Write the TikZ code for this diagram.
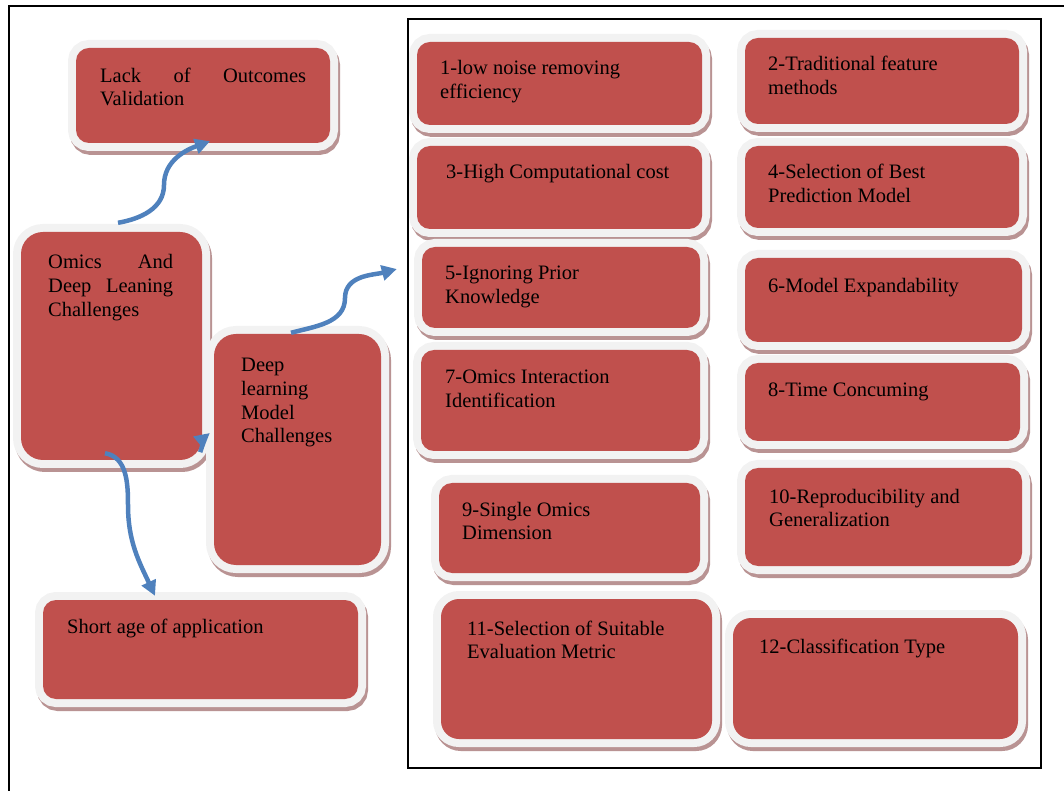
\documentclass[tikz,border=0pt]{standalone}
\usepackage{fontspec}
\setmainfont{Liberation Serif}
\usetikzlibrary{arrows.meta}
\definecolor{cardRed}{HTML}{C0504D}
\definecolor{cardRim}{HTML}{F2F2F2}
\definecolor{cardShade}{HTML}{B99393}
\definecolor{linkBlue}{HTML}{4F81BD}

\begin{document}
\begin{tikzpicture}[x=1pt, y=1pt, font=\fontsize{20.5}{23.6}\selectfont,
    card/.style={rectangle, rounded corners=13pt, fill=cardRed, inner sep=0pt,
      preaction={draw=cardShade, line width=16pt, transform canvas={shift={(2pt,-4pt)}}},
      preaction={draw=cardRim, line width=16pt}},
    note/.style={anchor=base west, inner sep=0pt, align=left},
    link/.style={draw=linkBlue, line width=4.5pt, -{Triangle[length=15pt, width=15pt]}}]
    \useasboundingbox (0,0) rectangle (1064,790);
    % frames
    \draw[line width=2pt] (9,-10) rectangle (1080,784);
    \draw[line width=2pt] (408,22) rectangle (1041,771);

    % left column
    \node[card, minimum width=254pt, minimum height=95pt] (lack) at (203,694.5) {};
    \node[card, rounded corners=22pt, minimum width=181pt, minimum height=228pt] (omics) at (111.5,444) {};
    \node[card, rounded corners=22pt, minimum width=167pt, minimum height=231pt] (deep) at (297.5,340.5) {};
    \node[card, minimum width=315pt, minimum height=99pt] (short) at (200.5,140.5) {};

    % text nodes sit on the baseline of their last line
    \node[note] (lackText) at (100,684.1) {\makebox[206pt][s]{Lack of Outcomes}\\Validation};
    \node[note] (omicsText) at (48,473.8)
      {\makebox[125pt][s]{Omics And}\\\makebox[125pt][s]{Deep Leaning}\\Challenges};
    \node[note] (deepText) at (241,347.2) {Deep\\learning\\Model\\Challenges};
    \node[note] (shortText) at (67,157) {Short age of application};

    % challenges
    \node[card, minimum width=285pt, minimum height=83pt] (c1) at (559.5,706.5) {};
    \node[card, minimum width=274pt, minimum height=86pt] (c2) at (882,709) {};
    \node[card, minimum width=285pt, minimum height=83pt] (c3) at (559.5,602.5) {};
    \node[card, minimum width=274pt, minimum height=82pt] (c4) at (882,603) {};
    \node[card, minimum width=278pt, minimum height=81pt] (c5) at (561,502.5) {};
    \node[card, minimum width=277pt, minimum height=84pt] (c6) at (883.5,490) {};
    \node[card, minimum width=279pt, minimum height=101pt] (c7) at (560.5,389.5) {};
    \node[card, minimum width=275pt, minimum height=78pt] (c8) at (882.5,388) {};
    \node[card, minimum width=261pt, minimum height=90pt] (c9) at (569.5,262) {};
    \node[card, minimum width=277pt, minimum height=98pt] (c10) at (883.5,273) {};
    \node[card, rounded corners=18pt, minimum width=271pt, minimum height=140pt] (c11) at (576.5,121) {};
    \node[card, rounded corners=18pt, minimum width=285pt, minimum height=121pt] (c12) at (875.5,111.5) {};

    \node[note] (c1Text) at (440,691.4) {1-low noise removing\\efficiency};
    \node[note] (c2Text) at (768,695.7) {2-Traditional feature\\methods};
    \node[note] (c3Text) at (446,611) {3-High Computational cost};
    \node[note] (c4Text) at (768,587.4) {4-Selection of Best\\Prediction Model};
    \node[note] (c5Text) at (445,486.4) {5-Ignoring Prior\\Knowledge};
    \node[note] (c6Text) at (768,497.7) {6-Model Expandability};
    \node[note] (c7Text) at (445,382.4) {7-Omics Interaction\\Identification};
    \node[note] (c8Text) at (768,393.3) {8-Time Concuming};
    \node[note] (c9Text) at (462,250.4) {9-Single Omics\\Dimension};
    \node[note] (c10Text) at (769,263.1) {10-Reproducibility and\\Generalization};
    \node[note] (c11Text) at (467,131.4) {11-Selection of Suitable\\Evaluation Metric};
    \node[note] (c12Text) at (759,136.7) {12-Classification Type};

    % links
    \draw[link] ([shift={(6.5,9)}]omics.north) to[out=10, in=-90] (164,605)
      to[out=90, in=200] ([shift={(7,2)}]lack.south);
    \draw[link] ([shift={(-6.5,1)}]deep.north) to[out=15, in=-90] (345,492)
      to[out=90, in=195] ([shift={(-25,18.5)}]c5.west);
    \draw[link] ([shift={(-6.5,7)}]omics.south) to[out=-10, in=90] (128,285)
      to[out=-90, in=115] ([shift={(-45.5,4)}]short.north);
    \draw[link] ([shift={(-2,8)}]omics.south east) to[out=70, in=220]
      ([shift={(-4,16.5)}]deep.west);
\end{tikzpicture}
\end{document}
